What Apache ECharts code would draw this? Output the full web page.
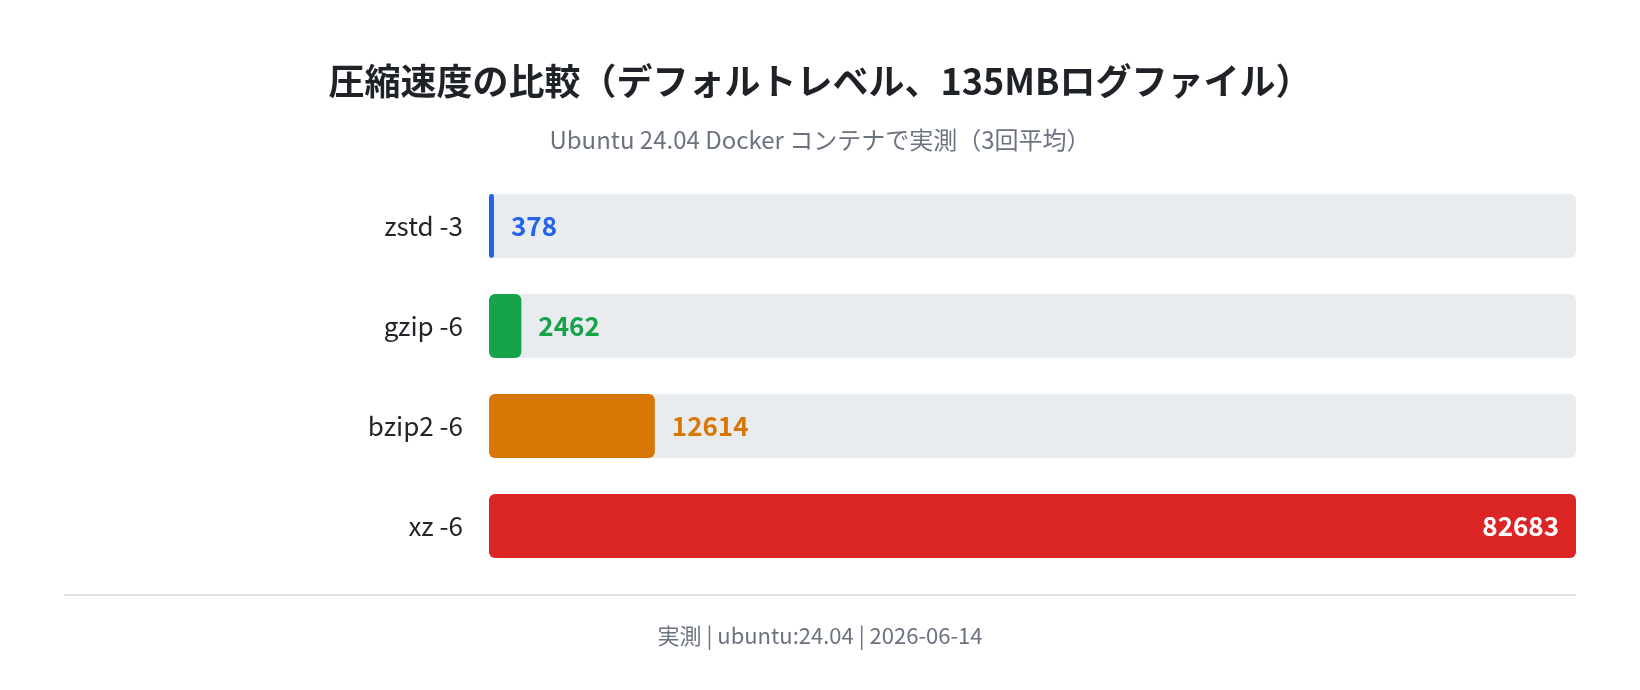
<!DOCTYPE html>
<html>
<head>
<meta charset="utf-8">
<script src="https://cdn.jsdelivr.net/npm/echarts@6/dist/echarts.min.js"></script>
<style>
    html, body { margin: 0; padding: 0; background: #fff; }
    #chart { width: 1640px; height: 690px; }
</style>
</head>
<body>
<div id="chart"></div>
<script>
// データ（ミリ秒、3回平均）
var tools = ['zstd -3', 'gzip -6', 'bzip2 -6', 'xz -6'];
var times = [378, 2462, 12614, 82683];
var colors = ['#2563eb', '#16a34a', '#d97706', '#dc2626'];

var FONT = '"Noto Sans CJK JP", "Noto Sans", sans-serif';

var chart = echarts.init(document.getElementById('chart'));

var seriesData = [];
for (var i = 0; i < times.length; i++) {
    var item = {
        value: times[i],
        itemStyle: { color: colors[i] },
        label: { color: colors[i] }
    };
    // 一番長いバーはラベルを内側に
    if (i == times.length - 1) {
        item.label = { position: 'insideRight', color: '#ffffff' };
    }
    seriesData.push(item);
}

var option = {
    backgroundColor: '#ffffff',
    title: [{
        text: '圧縮速度の比較（デフォルトレベル、135MBログファイル）',
        left: 'center',
        top: 57,
        textStyle: { fontFamily: FONT, fontSize: 36, fontWeight: 'bold', color: '#1f2328', lineHeight: 38 }
    }, {
        text: 'Ubuntu 24.04 Docker コンテナで実測（3回平均）',
        left: 'center',
        top: 122,
        textStyle: { fontFamily: FONT, fontSize: 24, fontWeight: 'normal', color: '#6b7280', lineHeight: 26 }
    }, {
        text: '実測 | ubuntu:24.04 | 2026-06-14',
        left: 'center',
        top: 619,
        textStyle: { fontFamily: FONT, fontSize: 22, fontWeight: 'normal', color: '#6b7280', lineHeight: 24 }
    }],
    grid: {
        left: 489,
        right: 64,
        top: 176,
        bottom: 114
    },
    xAxis: {
        type: 'value',
        min: 0,
        max: 'dataMax',
        show: false
    },
    yAxis: {
        type: 'category',
        inverse: true,
        data: tools,
        axisLine: { show: false },
        axisTick: { show: false },
        splitLine: { show: false },
        axisLabel: {
            margin: 26,
            fontFamily: FONT,
            fontSize: 26,
            color: '#212529'
        }
    },
    series: [{
        type: 'bar',
        barWidth: 64,
        data: seriesData,
        showBackground: true,
        backgroundStyle: { color: '#e9ecef', borderRadius: 6 },
        itemStyle: { borderRadius: 6 },
        label: {
            show: true,
            position: 'right',
            distance: 17,
            fontFamily: FONT,
            fontSize: 26,
            fontWeight: 'bold'
        },
        animation: false
    }],
    graphic: [{
        type: 'line',
        shape: { x1: 64, y1: 595, x2: 1576, y2: 595 },
        style: { stroke: '#dee2e6', lineWidth: 2 }
    }]
};

chart.setOption(option);
</script>
</body>
</html>
